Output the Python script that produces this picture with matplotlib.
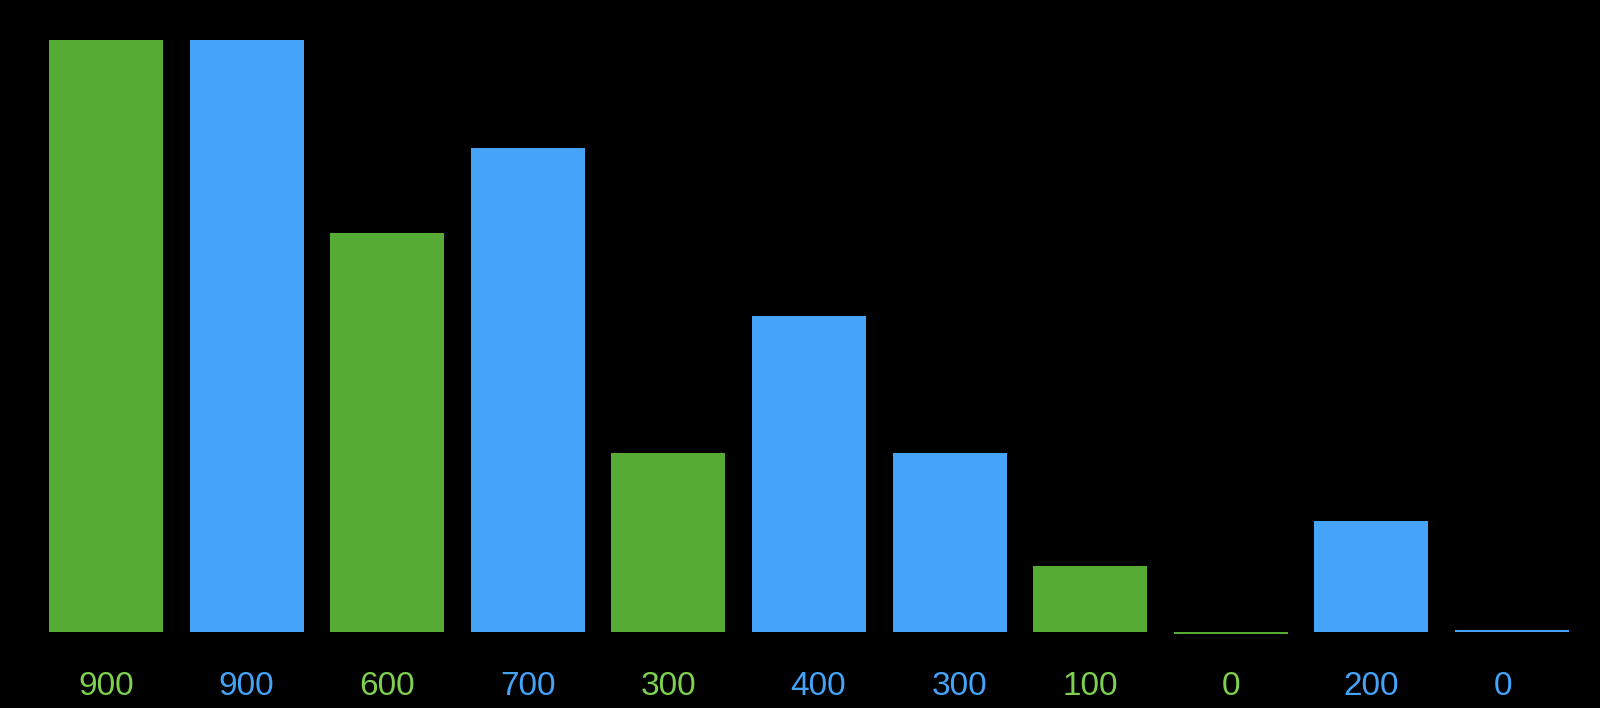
import matplotlib.pyplot as plt
import matplotlib.transforms as mtransforms

heights = [900, 900, 607, 736, 272, 480, 272, 100, -3, 169, 3]
labels = ["900", "900", "600", "700", "300", "400", "300", "100", "0", "200", "0"]
groups = ["g", "b", "g", "b", "g", "b", "b", "g", "g", "b", "b"]

# small horizontal nudges of some labels (pixels), as in the original
label_shift_px = [0, 0, 0, 0, 0, 9, 10, 0, 0, 0, -9]

BAR_COLORS = {"g": "#55AB33", "b": "#45A3F8"}
TEXT_COLORS = {"g": "#7ED04F", "b": "#45A3F8"}

fig = plt.figure(figsize=(16, 7.08), dpi=100, facecolor="black")
ax = fig.add_axes([0, 0, 1, 1])
ax.set_facecolor("black")

x = list(range(len(heights)))
ax.bar(x, heights, width=0.81, color=[BAR_COLORS[g] for g in groups])

ax.set_xlim(-0.754, 10.626)
ax.set_ylim(-115.5, 960.8)
ax.axis("off")

px_per_unit = 1600 / (10.626 + 0.754)
trans = mtransforms.blended_transform_factory(ax.transData, ax.transAxes)
for xi, lab, g, dx in zip(x, labels, groups, label_shift_px):
    ax.text(xi + dx / px_per_unit, 13 / 708, lab, transform=trans,
            ha="center", va="baseline",
            fontsize=24, family="Liberation Sans", color=TEXT_COLORS[g])

fig.savefig("out.png", dpi=100, facecolor="black")
